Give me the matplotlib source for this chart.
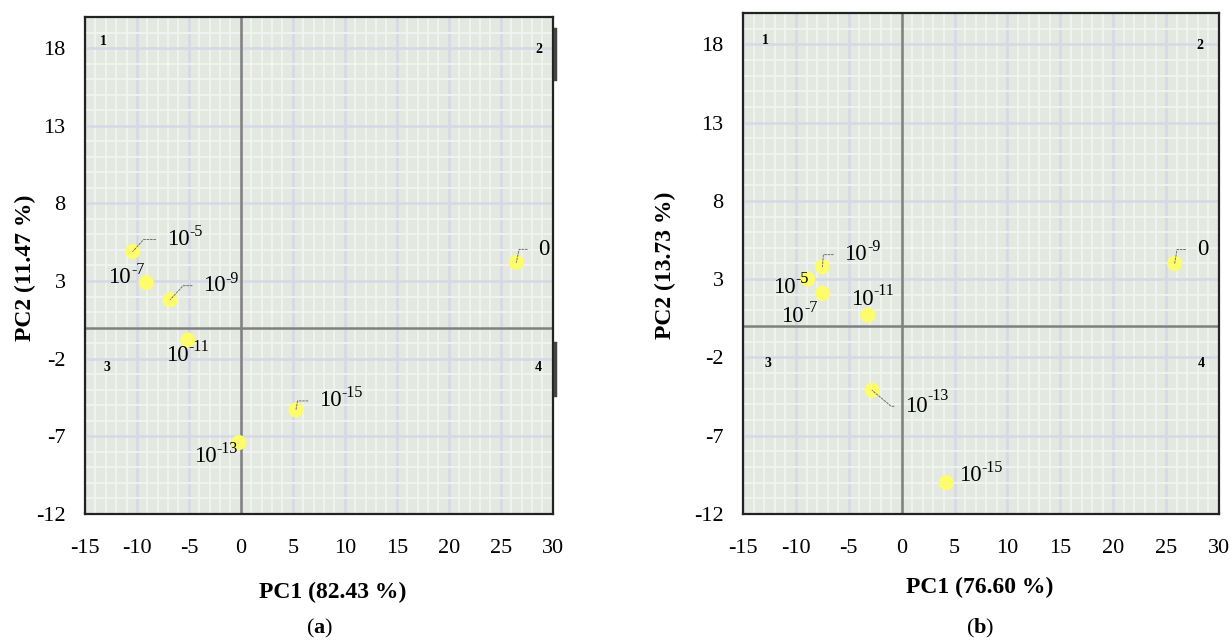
import matplotlib
matplotlib.use("Agg")
import matplotlib.pyplot as plt
import numpy as np

plt.rcParams['font.family'] = ['Liberation Serif', 'DejaVu Serif']
plt.rcParams['axes.unicode_minus'] = False
plt.rcParams['mathtext.fontset'] = 'custom'
plt.rcParams['mathtext.rm'] = 'Liberation Serif'
plt.rcParams['mathtext.bf'] = 'Liberation Serif:bold'

# concentration labels: base + exponent
bases = ["0", "10", "10", "10", "10", "10", "10"]
exps = ["", "-5", "-7", "-9", "-11", "-13", "-15"]

pc1_a = [26.5, -10.4, -9.1, -6.8, -5.1, -0.2, 5.3]
pc2_a = [4.2, 4.9, 2.9, 1.8, -0.8, -7.4, -5.3]

pc1_b = [25.8, -8.9, -7.5, -7.5, -3.2, -2.8, 4.2]
pc2_b = [4.0, 3.0, 2.1, 3.8, 0.7, -4.1, -10.0]

xticks = [-15, -10, -5, 0, 5, 10, 15, 20, 25, 30]
yticks = [-12, -7, -2, 3, 8, 13, 18]

# label offsets (pixels, left edge / middle of text) and leader angle
offs_a = [(22, 13, 78), (34, 12, 48), (-38, 5, None), (33, 14, 47),
          (-22, -15, None), (-45, -14, None), (23, 9, 80)]
offs_b = [(22, 14, 80), (-35, -8, None), (-41, -23, None), (22, 12, 85),
          (-17, 16, None), (33, -16, -40), (13, 7, None)]

BG = '#e3e8e1'
MAJ = '#d6d8e6'
MIN = '#f3f5f2'
PT = '#fcfc6c'


def draw_panel(ax, xs, ys, offs, quad_pos, side_bars):
    ax.set_facecolor(BG)
    ax.set_xlim(-15, 30)
    ax.set_ylim(-12, 20)
    ax.set_xticks(xticks)
    ax.set_yticks(yticks)
    ax.set_xticks(np.arange(-15, 30.5, 1), minor=True)
    ax.set_yticks(np.arange(-12, 20.5, 1), minor=True)
    ax.grid(which='minor', color=MIN, lw=1.2)
    ax.grid(which='major', color=MAJ, lw=1.8)
    ax.set_axisbelow(True)
    ax.tick_params(which='both', length=0, labelsize=16)
    ax.tick_params(axis='y', pad=14)
    ax.tick_params(axis='x', pad=18)
    for s in ax.spines.values():
        s.set_color('#222222')
        s.set_linewidth(1.6)
    ax.axhline(0, color='#7f7f7f', lw=1.8, zorder=2)
    ax.axvline(0, color='#7f7f7f', lw=1.8, zorder=2)
    ax.scatter(xs, ys, s=120, color=PT, edgecolors='none', zorder=3)
    for x, y, b, e, (dx, dy, ang) in zip(xs, ys, bases, exps, offs):
        kw = {}
        if ang is not None:
            kw['arrowprops'] = dict(arrowstyle='-', ls=(0, (2, 1.5)), lw=0.7,
                                    color='#707070', relpos=(0, 0.5),
                                    shrinkA=6, shrinkB=0,
                                    connectionstyle=f"angle,angleA=0,angleB={ang},rad=0")
        t = ax.annotate(b, (x, y), xytext=(dx, dy), textcoords='offset pixels',
                        ha='left', va='center', fontsize=16.5, zorder=4, **kw)
        if e:
            ax.annotate(e, xy=(1, 0.5), xycoords=t, ha='left', va='bottom',
                        fontsize=11.5, zorder=4)
    for q, (qx, qy) in zip(["1", "2", "3", "4"], quad_pos):
        ax.text(qx, qy, q, transform=ax.transAxes, fontsize=10, fontweight='bold',
                ha='center', va='center')
    for y0, y1 in side_bars:
        ax.plot([1.004, 1.004], [y0, y1], transform=ax.transAxes, color='#444444',
                lw=2.5, clip_on=False, zorder=5)


fig = plt.figure(figsize=(12.31, 6.44), dpi=100)
ax1 = fig.add_axes([0.069, 0.2019, 0.380, 0.7717])
ax2 = fig.add_axes([0.6036, 0.2019, 0.3867, 0.7779])

draw_panel(ax1, pc1_a, pc2_a, offs_a,
           [(0.04, 0.95), (0.97, 0.935), (0.047, 0.294), (0.97, 0.294)],
           [(0.876, 0.975), (0.24, 0.345)])
draw_panel(ax2, pc1_b, pc2_b, offs_b,
           [(0.048, 0.946), (0.96, 0.936), (0.053, 0.301), (0.962, 0.301)],
           [])

fig.text(333 / 1231, 1 - 592 / 644, "PC1 (82.43 %)", ha='center', va='center',
         fontsize=17, fontweight='bold')
fig.text(980 / 1231, 1 - 587 / 644, "PC1 (76.60 %)", ha='center', va='center',
         fontsize=17, fontweight='bold')
fig.text(25 / 1231, 1 - 268 / 644, "PC2 (11.47 %)", ha='center', va='center',
         rotation=90, fontsize=17, fontweight='bold')
fig.text(665 / 1231, 1 - 265 / 644, "PC2 (13.73 %)", ha='center', va='center',
         rotation=90, fontsize=17, fontweight='bold')
fig.text(320 / 1231, 1 - 628 / 644, "($\\mathbf{a}$)", ha='center', va='center', fontsize=16)
fig.text(980 / 1231, 1 - 628 / 644, "($\\mathbf{b}$)", ha='center', va='center', fontsize=16)

fig.savefig("out.png", dpi=100)
